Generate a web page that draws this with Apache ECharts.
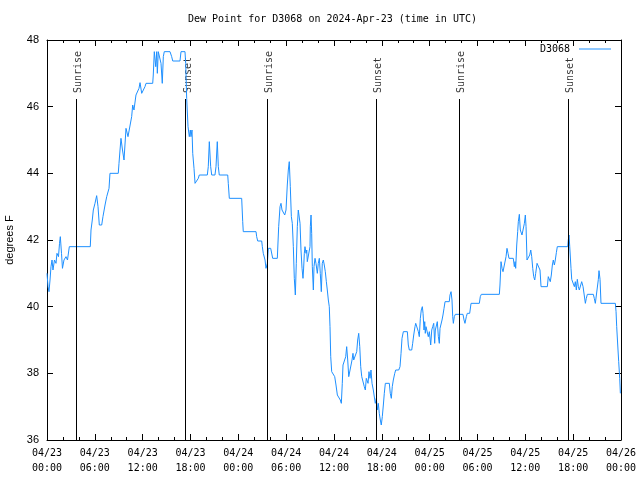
<!DOCTYPE html>
<html><head><meta charset="utf-8">
<script src="https://cdn.jsdelivr.net/npm/echarts@6/dist/echarts.min.js"></script>
<style>html,body{margin:0;padding:0;background:#fff}#c{width:640px;height:480px}</style>
</head><body><div id="c"></div>
<script>
// Time in hours since 2024-04-23 00:00 UTC, dew point in degrees F
const dewPointA = [[0,41.0],[0.13,40.6],[0.25,40.45],[0.38,40.8],[0.5,41.2],[0.63,41.4],[0.75,41.1],[0.94,41.4],[1.13,41.3],[1.25,41.6],[1.44,41.5],[1.57,41.9],[1.67,42.1],[1.82,41.6],[1.94,41.15],[2.13,41.4],[2.38,41.5],[2.57,41.4],[2.8,41.8],[5.43,41.8]];
const dewPointB = [[5.52,42.3],[5.68,42.6],[5.81,42.9],[6.02,43.1],[6.23,43.33],[6.4,43.0],[6.56,42.45],[6.86,42.45],[7.02,42.7],[7.28,43.05],[7.49,43.3],[7.78,43.55],[7.9,44.0],[8.94,44.0],[9.03,44.3],[9.16,44.7],[9.28,45.05],[9.47,44.7],[9.66,44.4],[9.91,45.35],[10.16,45.1],[10.41,45.1],[10.62,45.7],[10.75,46.05],[10.91,45.9],[11.16,46.35],[11.54,46.55],[11.67,46.72],[11.88,46.4],[12.29,46.6],[12.42,46.7],[13.26,46.7],[13.33,46.95],[13.46,47.65],[13.64,47.2],[13.76,47.65],[13.84,47.0],[13.96,47.65],[14.17,47.65],[14.3,47.3],[14.46,46.7],[14.59,47.5],[14.71,47.65],[15.43,47.65],[15.64,47.5],[15.77,47.37],[16.68,47.37],[16.81,47.65],[17.31,47.65]];
const dewPointC = [[17.40,47.3],[17.52,46.25],[17.69,45.4],[17.85,45.1],[17.98,45.3],[18.06,45.1],[18.19,45.3],[18.28,44.6],[18.44,44.15],[18.57,43.7],[18.78,43.65],[18.98,43.85],[19.10,43.95],[20.11,43.95],[20.23,44.2],[20.36,44.95],[20.53,44.2],[20.66,43.95],[21.07,43.95],[21.20,44.2],[21.36,44.95],[21.49,44.2],[21.61,43.95],[22.67,43.95],[22.74,43.7],[22.87,43.25],[24.42,43.25],[24.55,42.55],[24.62,42.25],[26.22,42.25],[26.30,42.1],[26.43,41.97],[26.93,41.97],[27.01,41.8],[27.13,41.6],[27.35,41.4],[27.47,41.15],[27.64,41.3],[27.76,41.75],[28.06,41.75],[28.31,41.45],[28.89,41.45],[29.06,42.4],[29.23,43.0],[29.35,43.1],[29.48,42.9],[29.64,42.9],[29.82,42.75],[29.98,42.9],[30.14,43.65],[30.27,44.1],[30.39,44.35],[30.52,43.6],[30.65,42.7],[30.77,42.5],[30.90,41.8],[31.02,40.85],[31.15,40.35],[31.27,41.3],[31.40,42.4],[31.52,42.9],[31.74,42.5]];
const dewPointD = [[31.86,41.7],[31.99,41.15],[32.11,40.85],[32.18,41.1],[32.28,41.6],[32.36,41.8],[32.49,41.6],[32.58,41.7],[32.65,41.35],[32.87,41.4],[32.99,41.8],[33.03,42.4],[33.12,42.75],[33.20,42.2],[33.28,41.2],[33.41,40.5],[33.49,41.2],[33.62,41.45],[33.74,41.3],[33.91,41.0],[34.03,41.3],[34.16,41.45],[34.28,41.0],[34.41,40.45],[34.53,41.3],[34.66,41.4],[34.78,41.25],[34.91,41.05],[35.04,40.75],[35.16,40.5],[35.29,40.2],[35.41,40.0],[35.50,39.4],[35.59,38.5],[35.71,38.05],[35.91,38.0],[36.09,37.9],[36.25,37.65],[36.42,37.35],[36.67,37.3],[36.79,37.2],[36.92,37.1],[37.04,37.7],[37.13,38.25],[37.38,38.25],[37.47,38.5],[37.59,38.8],[37.72,38.4],[37.85,37.9],[38.10,37.9],[38.26,38.4],[38.38,38.6],[38.47,38.4],[38.60,38.45],[38.72,38.35],[38.85,38.65],[38.97,39.0],[39.10,39.2],[39.23,38.8],[39.35,38.2],[39.48,37.9],[39.68,37.9],[39.80,37.6],[39.93,37.5],[40.05,37.85],[40.18,37.9],[40.27,37.7],[40.39,38.05],[40.52,37.85],[40.64,38.1],[40.77,37.7],[40.93,37.5],[41.06,37.45],[41.18,37.1],[41.31,37.25],[41.43,36.9],[41.56,37.1],[41.68,36.8],[41.81,36.6],[41.93,36.45],[42.06,36.7],[42.19,37.05],[42.31,37.4],[42.44,37.7],[42.94,37.7],[43.06,37.4],[43.19,37.25],[43.31,37.6],[43.44,37.8],[43.62,38.0],[43.74,38.1],[44.12,38.1],[44.28,38.2]];
const dewPointE = [[44.41,38.6],[44.53,39.05],[44.70,39.25],[45.20,39.25],[45.32,38.85],[45.45,38.7],[45.75,38.7],[45.87,38.9],[46.00,39.15],[46.16,39.4],[46.25,39.5],[46.45,39.5],[46.58,39.25],[46.70,39.1],[46.83,39.65],[46.95,39.9],[47.08,40.0],[47.17,39.8],[47.29,39.3],[47.38,39.55],[47.45,39.2],[47.54,39.4],[47.71,39.4],[47.83,39.1],[47.96,39.25],[48.13,38.85],[48.26,39.3],[48.38,39.4],[48.51,39.5],[48.63,38.9],[48.71,39.3],[48.83,39.35],[48.96,39.55],[49.09,39.1],[49.21,38.9],[49.30,39.35],[49.42,39.4],[49.55,39.6],[49.67,39.75],[49.80,39.95],[49.93,40.15],[50.46,40.15],[50.55,40.35],[50.68,40.45],[50.80,40.2],[50.89,39.7],[50.97,39.5],[51.09,39.7],[51.22,39.77],[52.18,39.77],[52.31,39.6],[52.43,39.5],[52.60,39.7],[52.72,39.8],[53.02,39.8],[53.19,40.1],[54.23,40.1],[54.35,40.3],[54.48,40.37],[56.74,40.37]];
const dewPointF = [[56.82,40.65],[56.95,41.35],[57.08,41.15],[57.20,41.05],[57.45,41.05],[57.58,41.5],[57.70,41.75],[57.83,41.6],[57.95,41.45],[58.49,41.45],[58.62,41.2],[58.71,41.35],[58.79,41.15],[58.92,41.85],[59.04,42.25],[59.12,42.55],[59.25,42.77],[59.37,42.3],[59.50,42.3],[59.58,42.15],[59.75,42.15],[59.88,42.5],[60.00,42.75],[60.09,42.4],[60.21,41.4],[60.43,41.4],[60.55,41.55],[60.68,41.7],[60.80,41.5],[60.93,41.15],[61.05,40.9],[61.18,40.8],[61.30,41.0],[61.47,41.3],[61.72,41.3],[61.84,41.1],[61.97,40.6],[62.76,40.6],[62.88,40.9],[63.01,40.95],[63.13,40.75],[63.26,40.95],[63.39,41.25],[63.51,41.4],[63.64,41.25],[63.76,41.4],[63.89,41.62],[64.01,41.8],[65.32,41.8],[65.39,42.0],[65.48,42.15],[65.57,41.8],[65.73,41.15],[65.82,40.82],[66.02,40.82],[66.15,40.6],[66.27,40.75],[66.40,40.5],[66.52,40.82],[66.65,40.6],[66.77,40.5],[66.95,40.5],[67.07,40.75],[67.24,40.6],[67.40,40.6],[67.53,40.1],[67.65,40.25],[67.78,40.37],[68.53,40.37],[68.65,40.25],[68.78,40.1],[69.03,40.1],[69.16,40.82],[69.24,41.08],[69.37,40.82],[69.49,40.1],[71.29,40.1],[71.38,39.85],[71.46,39.4],[71.59,38.85],[71.71,38.35],[71.84,37.85],[71.92,37.4]];

const eventHours = [3.64, 17.40, 27.6, 41.3, 51.7, 65.39];
const eventNames = ['Sunrise', 'Sunset', 'Sunrise', 'Sunset', 'Sunrise', 'Sunset'];
const xTickLabels = ['04/23\n00:00','04/23\n06:00','04/23\n12:00','04/23\n18:00','04/24\n00:00','04/24\n06:00','04/24\n12:00','04/24\n18:00','04/25\n00:00','04/25\n06:00','04/25\n12:00','04/25\n18:00','04/26\n00:00'];
const titleText = 'Dew Point for D3068 on 2024-Apr-23 (time in UTC)';
const seriesName = 'D3068';

// layout constants (in axis units) for the event marker lines / labels
const EVENT_LINE_TOP = 46.23;
const EVENT_LABEL_BASE = 46.35;

const dewData = [].concat(dewPointA, dewPointB, dewPointC, dewPointD, dewPointE, dewPointF);

const mono = 'DejaVu Sans Mono';
const sans = 'Liberation Sans';
const black = '#000';
const lineColor = '#1e90ff';

const xCommon = {
  type: 'value', min: 0, max: 72, interval: 6,
  axisLine: { show: true, onZero: false, lineStyle: { color: black, width: 1 } },
  axisTick: { show: true, inside: true, length: 6, lineStyle: { color: black } },
  minorTick: { show: true, splitNumber: 3, length: 3, lineStyle: { color: black } },
  splitLine: { show: false }, minorSplitLine: { show: false }
};
const yCommon = {
  type: 'value', min: 36, max: 48, interval: 2,
  axisLine: { show: true, onZero: false, lineStyle: { color: black, width: 1 } },
  axisTick: { show: true, inside: true, length: 6, lineStyle: { color: black } },
  splitLine: { show: false }
};

const chart = echarts.init(document.getElementById('c'), null, { renderer: 'canvas' });
chart.setOption({
  animation: false,
  backgroundColor: '#fff',
  title: {
    text: titleText, left: 188, top: 14, padding: 0,
    textStyle: { fontFamily: mono, fontSize: 10, fontWeight: 'normal', color: black }
  },
  legend: {
    data: [{ name: seriesName, icon: 'rect', itemStyle: { color: lineColor } }],
    right: 29, top: 44, padding: 0, align: 'right',
    itemWidth: 32, itemHeight: 1,
    textStyle: { fontFamily: mono, fontSize: 10, color: black, padding: [0, 4, 0, 0] }
  },
  grid: { left: 47, right: 19, top: 40, bottom: 40, containLabel: false, outerBoundsMode: 'none' },
  xAxis: [
    Object.assign({}, xCommon, {
      position: 'bottom',
      axisLabel: {
        formatter: v => xTickLabels[Math.round(v / 6)],
        fontFamily: mono, fontSize: 10, color: black, lineHeight: 15, margin: 6
      }
    }),
    Object.assign({}, xCommon, { position: 'top', axisLabel: { show: false } })
  ],
  yAxis: [
    Object.assign({}, yCommon, {
      position: 'left',
      axisLabel: { fontFamily: sans, fontSize: 11, color: black, margin: 8 },
      name: 'degrees F', nameLocation: 'middle', nameGap: 32, nameRotate: 90,
      nameTextStyle: { fontFamily: sans, fontSize: 11, color: black }
    }),
    Object.assign({}, yCommon, { position: 'right', axisLabel: { show: false } })
  ],
  series: [
    {
      name: seriesName, type: 'line', data: dewData,
      showSymbol: false, symbol: 'none', z: 3,
      lineStyle: { color: lineColor, width: 1 }, itemStyle: { color: lineColor }
    },
    {
      name: 'events', type: 'scatter', symbolSize: 1, silent: true,
      itemStyle: { color: 'rgba(0,0,0,0)' },
      data: eventHours.map((h, i) => ({ value: [h, EVENT_LABEL_BASE], name: eventNames[i] })),
      label: {
        show: true, position: 'inside', formatter: p => p.name, rotate: 90,
        align: 'left', verticalAlign: 'middle', offset: [2, 2.5],
        fontFamily: mono, fontSize: 10, color: black
      },
      markLine: {
        silent: true, symbol: ['none', 'none'], animation: false,
        label: { show: false },
        lineStyle: { color: black, width: 1, type: 'solid' },
        emphasis: { disabled: true },
        data: eventHours.map(h => [{ coord: [h, 36] }, { coord: [h, EVENT_LINE_TOP] }])
      }
    }
  ]
});
</script></body></html>
